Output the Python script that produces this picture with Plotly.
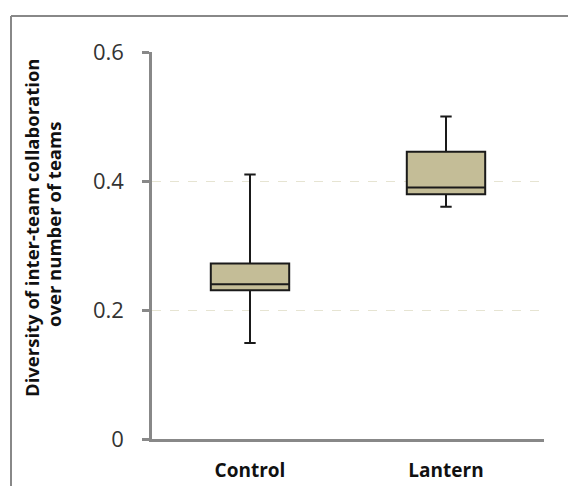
import plotly.graph_objects as go

categories = ["Control", "Lantern"]
lower_whisker = [0.149, 0.360]
q1_values = [0.2305, 0.3795]
median_values = [0.240, 0.390]
q3_values = [0.272, 0.4455]
upper_whisker = [0.410, 0.500]
y_ticks = [0, 0.2, 0.4, 0.6]
y_title_lines = ["Diversity of inter-team collaboration", "over number of teams"]

W, H = 568, 486
L, R, T, B = 152, 24, 52, 47
pw, ph = W - L - R, H - T - B


def px_x(p):
    return (p - L) / pw


def px_y(p):
    return (H - B - p) / ph


fig = go.Figure()
fig.add_trace(go.Box(
    x=categories,
    q1=q1_values,
    median=median_values,
    q3=q3_values,
    lowerfence=lower_whisker,
    upperfence=upper_whisker,
    fillcolor="#C4BD97",
    line=dict(color="#1a1a1a", width=2),
    width=0.4,
    whiskerwidth=0.145,
    boxpoints=False,
    showlegend=False,
    hoverinfo="skip",
))

title_font = dict(family="Open Sans", size=18.5, color="#111111", weight="bold")

fig.update_layout(
    width=W, height=H,
    autosize=False,
    margin=dict(l=L, r=R, t=T, b=B, pad=0, autoexpand=False),
    paper_bgcolor="white",
    plot_bgcolor="white",
    font=dict(family="Open Sans", color="#333333"),
    xaxis=dict(
        type="category",
        range=[-0.5, 1.5],
        automargin=False,
        showline=True, linecolor="#888888", linewidth=2.5,
        ticks="", showgrid=False, zeroline=False,
        tickfont=dict(family="Open Sans", size=19, color="#111111", weight="bold"),
        ticklabelstandoff=12,
    ),
    yaxis=dict(
        range=[0, 0.6],
        automargin=False,
        tickvals=y_ticks,
        ticktext=[f"{v:g}" for v in y_ticks],
        showline=True, linecolor="#888888", linewidth=2.5,
        ticks="outside", ticklen=7, tickwidth=2.5, tickcolor="#888888",
        showgrid=True, gridcolor="#e6e4d2", gridwidth=1, griddash="dash",
        zeroline=False,
        tickfont=dict(family="Open Sans", size=22, color="#333333"),
        ticklabelstandoff=14,
    ),
    shapes=[
        dict(type="line", xref="paper", yref="paper",
             x0=px_x(11), x1=px_x(W), y0=px_y(16), y1=px_y(16),
             line=dict(color="#888888", width=2)),
        dict(type="line", xref="paper", yref="paper",
             x0=px_x(11), x1=px_x(11), y0=px_y(16), y1=px_y(H),
             line=dict(color="#888888", width=2)),
    ],
    annotations=[
        dict(text=y_title_lines[0], xref="paper", yref="paper",
             x=px_x(32), y=px_y(228), xanchor="center", yanchor="middle",
             textangle=-90, showarrow=False, font=title_font),
        dict(text=y_title_lines[1], xref="paper", yref="paper",
             x=px_x(53), y=px_y(225), xanchor="center", yanchor="middle",
             textangle=-90, showarrow=False, font=title_font),
    ],
)

fig.write_html(
    "out.html",
    config={"displayModeBar": False},
    post_script="document.body.style.margin='0';document.body.style.overflow='hidden';",
)
